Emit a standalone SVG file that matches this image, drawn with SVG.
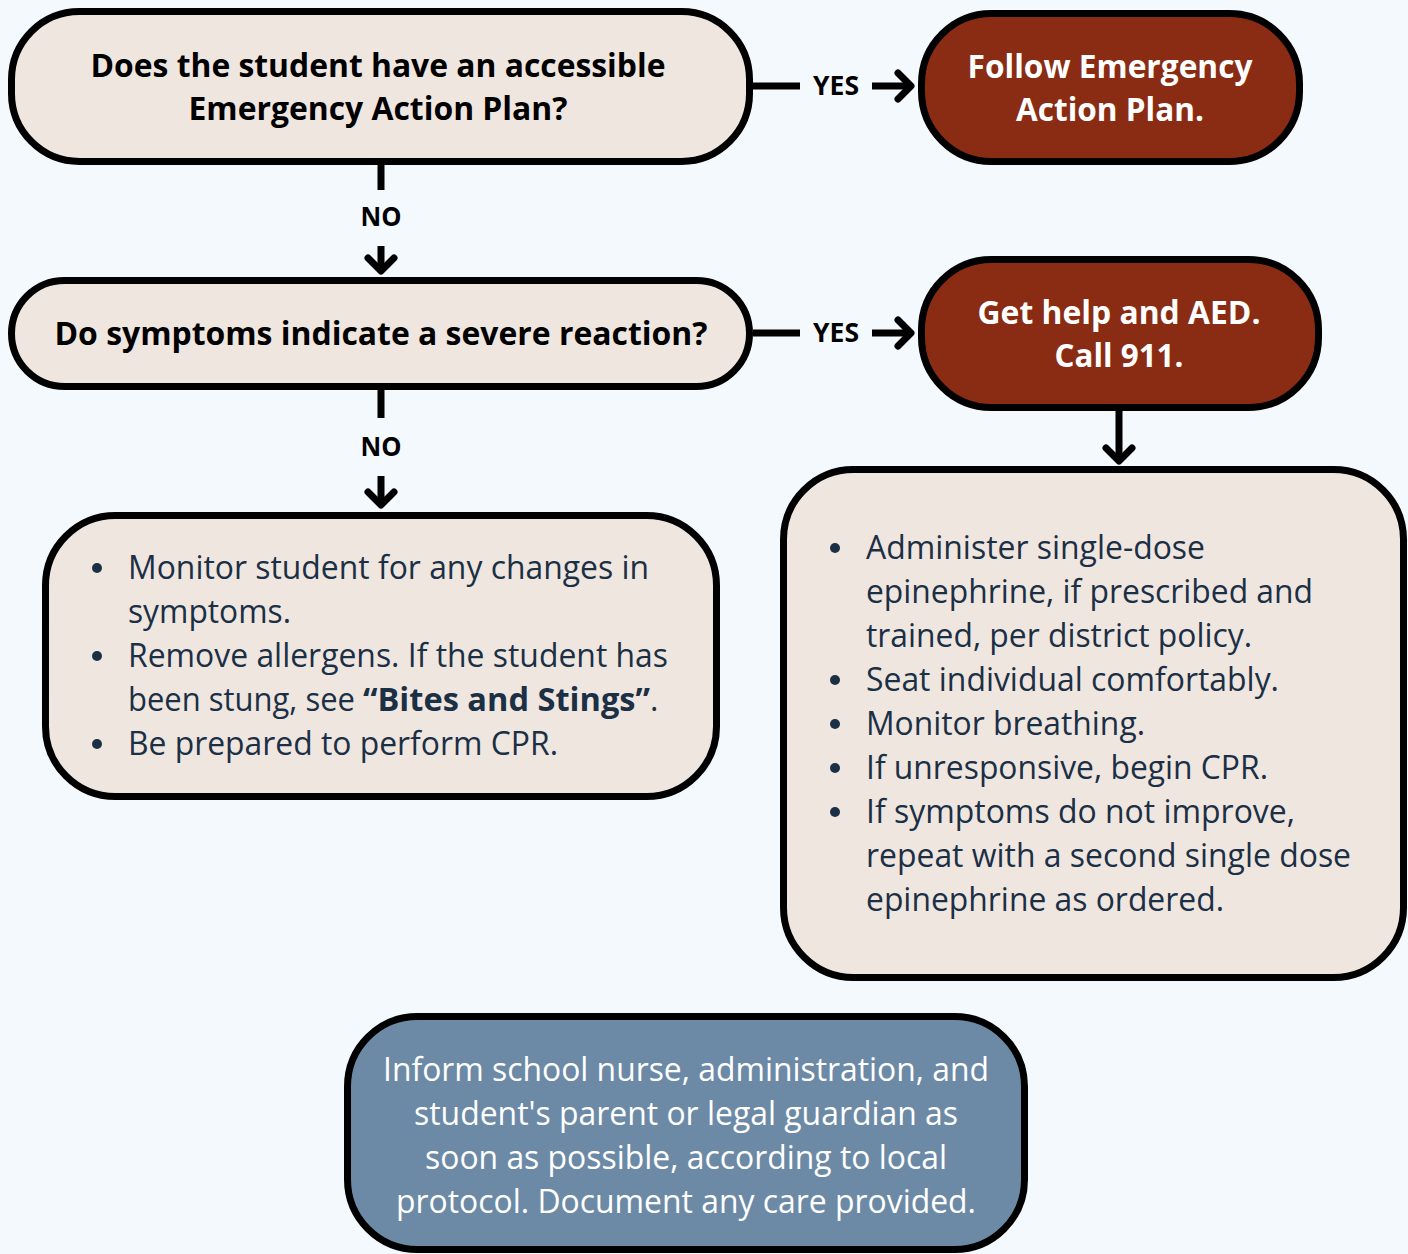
<svg xmlns="http://www.w3.org/2000/svg" width="1408" height="1254" viewBox="0 0 1408 1254">
  <style>
    .box { stroke: #000; stroke-width: 7; }
    .q { fill: #EFE6E0; }
    .act { fill: #8A2C13; }
    .info { fill: #6C8AA6; }
    .title { font-family: "Open Sans", "Liberation Sans", sans-serif; font-weight: 700; font-size: 33px; text-anchor: middle; }
    .dark { fill: #000; }
    .light { fill: #FFFFFF; }
    .body { font-family: "Open Sans", "Liberation Sans", sans-serif; font-size: 32px; fill: #1B2F45; }
    .note { font-family: "Open Sans", "Liberation Sans", sans-serif; font-size: 32px; fill: #FFFFFF; text-anchor: middle; }
    .lbl { font-family: "Open Sans", "Liberation Sans", sans-serif; font-weight: 700; font-size: 26px; fill: #000; text-anchor: middle; }
    .wire { stroke: #000; stroke-width: 7; fill: none; stroke-linecap: butt; }
    .head { stroke: #000; stroke-width: 7; fill: none; stroke-linecap: round; stroke-linejoin: round; }
    .dot { fill: #1B2F45; }
  </style>
  <rect width="1408" height="1254" fill="#F4F9FE"/>

  <g id="connectors">
    <!-- plan? -> follow plan -->
    <line class="wire" x1="753" y1="86" x2="800" y2="86"/>
    <text class="lbl" x="836" y="95" textLength="46" lengthAdjust="spacingAndGlyphs">YES</text>
    <line class="wire" x1="872" y1="86" x2="910" y2="86"/>
    <polyline class="head" points="898,73 911,86 898,99"/>
    <!-- plan? -> severe? -->
    <line class="wire" x1="381" y1="163" x2="381" y2="190"/>
    <text class="lbl" x="381" y="226" textLength="41" lengthAdjust="spacingAndGlyphs">NO</text>
    <line class="wire" x1="381" y1="246" x2="381" y2="270"/>
    <polyline class="head" points="368,258 381,271 394,258"/>
    <!-- severe? -> get help -->
    <line class="wire" x1="753" y1="333" x2="800" y2="333"/>
    <text class="lbl" x="836" y="342" textLength="46" lengthAdjust="spacingAndGlyphs">YES</text>
    <line class="wire" x1="872" y1="333" x2="910" y2="333"/>
    <polyline class="head" points="898,320 911,333 898,346"/>
    <!-- severe? -> monitor -->
    <line class="wire" x1="381" y1="390" x2="381" y2="418"/>
    <text class="lbl" x="381" y="456" textLength="41" lengthAdjust="spacingAndGlyphs">NO</text>
    <line class="wire" x1="381" y1="476" x2="381" y2="504"/>
    <polyline class="head" points="368,492 381,505 394,492"/>
    <!-- get help -> administer -->
    <line class="wire" x1="1119" y1="410" x2="1119" y2="460"/>
    <polyline class="head" points="1106,448 1119,461 1132,448"/>
  </g>

  <g id="node-plan">
    <rect class="box q" x="11.5" y="11.5" width="738" height="150" rx="68"/>
    <text class="title dark" x="378" y="77" textLength="575" lengthAdjust="spacingAndGlyphs">Does the student have an accessible</text>
    <text class="title dark" x="378" y="120" textLength="379" lengthAdjust="spacingAndGlyphs">Emergency Action Plan?</text>
  </g>

  <g id="node-follow">
    <rect class="box act" x="921.5" y="13.5" width="378" height="148" rx="70"/>
    <text class="title light" x="1110" y="78" textLength="285" lengthAdjust="spacingAndGlyphs">Follow Emergency</text>
    <text class="title light" x="1110" y="121" textLength="188" lengthAdjust="spacingAndGlyphs">Action Plan.</text>
  </g>

  <g id="node-severe">
    <rect class="box q" x="11.5" y="280.5" width="738" height="106" rx="53"/>
    <text class="title dark" x="381" y="345" textLength="653" lengthAdjust="spacingAndGlyphs">Do symptoms indicate a severe reaction?</text>
  </g>

  <g id="node-help">
    <rect class="box act" x="921.5" y="259.5" width="397" height="148" rx="70"/>
    <text class="title light" x="1119" y="324" textLength="283" lengthAdjust="spacingAndGlyphs">Get help and AED.</text>
    <text class="title light" x="1119" y="367" textLength="129" lengthAdjust="spacingAndGlyphs">Call 911.</text>
  </g>

  <g id="node-monitor">
    <rect class="box q" x="45.5" y="515.5" width="671" height="281" rx="70"/>
    <circle class="dot" cx="97" cy="568" r="5"/>
    <circle class="dot" cx="97" cy="656" r="5"/>
    <circle class="dot" cx="97" cy="744" r="5"/>
    <text class="body" x="128" y="579" textLength="521" lengthAdjust="spacingAndGlyphs">Monitor student for any changes in</text>
    <text class="body" x="128" y="623" textLength="163" lengthAdjust="spacingAndGlyphs">symptoms.</text>
    <text class="body" x="128" y="667" textLength="540" lengthAdjust="spacingAndGlyphs">Remove allergens. If the student has</text>
    <text class="body" x="128" y="711"><tspan textLength="235" lengthAdjust="spacingAndGlyphs">been stung, see </tspan><tspan font-weight="700" textLength="287" lengthAdjust="spacingAndGlyphs">“Bites and Stings”</tspan><tspan>.</tspan></text>
    <text class="body" x="128" y="755" textLength="430" lengthAdjust="spacingAndGlyphs">Be prepared to perform CPR.</text>
  </g>

  <g id="node-administer">
    <rect class="box q" x="783.5" y="469.5" width="620" height="508" rx="70"/>
    <circle class="dot" cx="835" cy="548" r="5"/>
    <circle class="dot" cx="835" cy="680" r="5"/>
    <circle class="dot" cx="835" cy="724" r="5"/>
    <circle class="dot" cx="835" cy="768" r="5"/>
    <circle class="dot" cx="835" cy="812" r="5"/>
    <text class="body" x="866" y="559" textLength="339" lengthAdjust="spacingAndGlyphs">Administer single-dose</text>
    <text class="body" x="866" y="603" textLength="447" lengthAdjust="spacingAndGlyphs">epinephrine, if prescribed and</text>
    <text class="body" x="866" y="647" textLength="386" lengthAdjust="spacingAndGlyphs">trained, per district policy.</text>
    <text class="body" x="866" y="691" textLength="413" lengthAdjust="spacingAndGlyphs">Seat individual comfortably.</text>
    <text class="body" x="866" y="735" textLength="279" lengthAdjust="spacingAndGlyphs">Monitor breathing.</text>
    <text class="body" x="866" y="779" textLength="402" lengthAdjust="spacingAndGlyphs">If unresponsive, begin CPR.</text>
    <text class="body" x="866" y="823" textLength="429" lengthAdjust="spacingAndGlyphs">If symptoms do not improve,</text>
    <text class="body" x="866" y="867" textLength="485" lengthAdjust="spacingAndGlyphs">repeat with a second single dose</text>
    <text class="body" x="866" y="911" textLength="358" lengthAdjust="spacingAndGlyphs">epinephrine as ordered.</text>
  </g>

  <g id="node-inform">
    <rect class="box info" x="347.5" y="1016.5" width="677" height="233" rx="70"/>
    <text class="note" x="686" y="1081" textLength="606" lengthAdjust="spacingAndGlyphs">Inform school nurse, administration, and</text>
    <text class="note" x="686" y="1125" textLength="544" lengthAdjust="spacingAndGlyphs">student's parent or legal guardian as</text>
    <text class="note" x="686" y="1169" textLength="522" lengthAdjust="spacingAndGlyphs">soon as possible, according to local</text>
    <text class="note" x="686" y="1213" textLength="580" lengthAdjust="spacingAndGlyphs">protocol. Document any care provided.</text>
  </g>
</svg>
